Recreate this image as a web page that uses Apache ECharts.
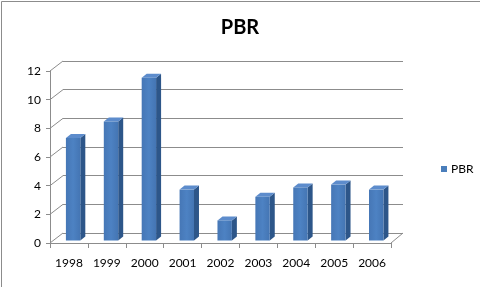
<!DOCTYPE html>
<html>
<head>
<meta charset="utf-8">
<script src="https://cdn.jsdelivr.net/npm/echarts@6/dist/echarts.min.js"></script>
<style>html,body{margin:0;padding:0;background:#fff}#c{width:480px;height:287px}</style>
</head>
<body>
<div id="c"></div>
<script>
const categories = ['1998','1999','2000','2001','2002','2003','2004','2005','2006'];
const pbrValues = [7.15, 8.3, 11.35, 3.55, 1.4, 3.05, 3.7, 3.9, 3.55];
const yTicks = [0, 2, 4, 6, 8, 10, 12];
const seriesName = 'PBR';

const FONT = 'Lato';
const GRID_COLOR = '#8c8c8c';
const DEPTH = [13, -10];

const chart = echarts.init(document.getElementById('c'), null, {renderer: 'canvas'});

function barItem(params, api) {
  const i = api.value(0), v = api.value(1);
  const p0 = api.coord([i, 0]);
  const p1 = api.coord([i, v]);
  const band = api.size([1, 0])[0];
  const w = band * 0.38;
  const x = p0[0] - band * 0.08;
  const yb = p0[1] - 2.5, yt = p1[1] - 2.5;
  const dx = 5, dy = 4;
  return {
    type: 'group',
    children: [
      {type: 'polygon', shape: {points: [[x + w, yb], [x + w + dx, yb - dy], [x + w + dx, yt - dy], [x + w, yt]]},
        style: {fill: '#2d5689'}},
      {type: 'polygon', shape: {points: [[x, yt], [x + dx, yt - dy], [x + w + dx, yt - dy], [x + w, yt]]},
        style: {fill: '#5d8ccc'}},
      {type: 'rect', shape: {x: x, y: yt, width: w, height: yb - yt},
        style: {fill: new echarts.graphic.LinearGradient(0, 0, 1, 0, [
          {offset: 0, color: '#4677b6'}, {offset: 0.5, color: '#4d82c3'}, {offset: 1, color: '#4475b3'}])}}
    ]
  };
}

function wallItem(params, api) {
  const v = api.value(1);
  const p = api.coord([0, v]);
  const band = api.size([1, 0])[0];
  const xl = p[0] - band / 2;
  const children = [{type: 'line', shape: {x1: xl, y1: p[1], x2: xl + DEPTH[0], y2: p[1] + DEPTH[1]},
    style: {stroke: GRID_COLOR, lineWidth: 1}}];
  if (v === 0) {
    const pr = api.coord([categories.length - 1, 0]);
    const xr = pr[0] + band / 2;
    children.push({type: 'line', shape: {x1: xr, y1: p[1], x2: xr + DEPTH[0] - 1, y2: p[1] + DEPTH[1]},
      style: {stroke: GRID_COLOR, lineWidth: 1}});
  }
  return {type: 'group', children: children};
}

chart.setOption({
  animation: false,
  backgroundColor: '#fff',
  title: {
    text: 'PBR', left: 'center', top: 13,
    textStyle: {fontFamily: FONT, fontSize: 20, fontWeight: 'bold', color: '#000'}
  },
  legend: {
    data: [{name: seriesName, icon: 'rect'}],
    left: 436, top: 158, itemWidth: 6, itemHeight: 6, itemGap: 5,
    textStyle: {fontFamily: FONT, fontSize: 12, color: '#000', padding: [0, 0, 0, -1]}
  },
  graphic: [{
    type: 'rect', shape: {x: 1.5, y: 1.5, width: 600, height: 400},
    style: {fill: 'none', stroke: '#8c8c8c', lineWidth: 1}, silent: true, z: -1
  }],
  grid: [
    {left: 50, right: 89, top: 71, bottom: 44},
    {left: 63, right: 77, top: 61, bottom: 54}
  ],
  xAxis: [
    {type: 'category', gridIndex: 0, data: categories, boundaryGap: true,
      axisLine: {show: true, lineStyle: {color: GRID_COLOR}},
      axisTick: {show: true, length: 5, alignWithLabel: false, lineStyle: {color: GRID_COLOR}},
      axisLabel: {margin: 14, fontFamily: FONT, fontSize: 12, color: '#000'},
      splitLine: {show: false}},
    {type: 'category', gridIndex: 1, data: categories, show: false}
  ],
  yAxis: [
    {type: 'value', gridIndex: 0, min: 0, max: 12, interval: 2,
      axisLine: {show: true, lineStyle: {color: GRID_COLOR}},
      axisTick: {show: true, length: 4, lineStyle: {color: GRID_COLOR}},
      axisLabel: {margin: 9, fontFamily: FONT, fontSize: 12, color: '#000'},
      splitLine: {show: false}},
    {type: 'value', gridIndex: 1, min: 0, max: 12, interval: 2,
      axisLine: {show: false}, axisTick: {show: false}, axisLabel: {show: false},
      splitLine: {show: true, lineStyle: {color: GRID_COLOR, width: 1}}}
  ],
  series: [
    {type: 'custom', name: 'walls', xAxisIndex: 0, yAxisIndex: 0, z: 1, silent: true,
      renderItem: wallItem, data: yTicks.map(v => [0, v])},
    {type: 'custom', name: seriesName, xAxisIndex: 0, yAxisIndex: 0, z: 5,
      itemStyle: {color: '#4a7ebb'},
      renderItem: barItem, data: categories.map((c, i) => [i, pbrValues[i]])}
  ]
});
</script>
</body>
</html>
